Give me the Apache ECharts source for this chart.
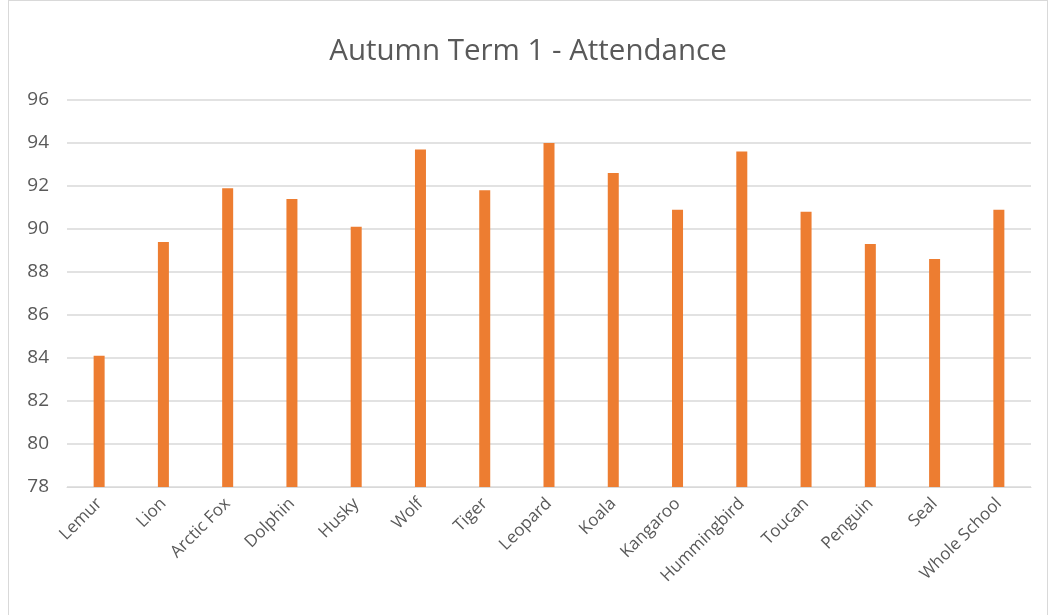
<!DOCTYPE html>
<html>
<head>
<meta charset="utf-8">
<script src="https://cdn.jsdelivr.net/npm/echarts@6/dist/echarts.min.js"></script>
<style>
  html, body { margin: 0; padding: 0; background: #fff; }
  #chart { position: absolute; left: 8px; top: 0; width: 1040px; height: 640px;
           border: 1px solid #d9d9d9; box-sizing: border-box; }
</style>
</head>
<body>
<div id="chart"></div>
<script>
var classes = ['Lemur', 'Lion', 'Arctic Fox', 'Dolphin', 'Husky', 'Wolf', 'Tiger', 'Leopard',
    'Koala', 'Kangaroo', 'Hummingbird', 'Toucan', 'Penguin', 'Seal', 'Whole School'];
var attendance = [84.1, 89.4, 91.9, 91.4, 90.1, 93.7, 91.8, 94.0, 92.6, 90.9, 93.6, 90.8, 89.3, 88.6, 90.9];
var yMin = 78, yMax = 96, yStep = 2;

var myChart = echarts.init(document.getElementById('chart'));
var option = {
    animation: false,
    title: {
        text: 'Autumn Term 1 - Attendance',
        left: 'center',
        top: 31,
        textStyle: {
            color: '#595959',
            fontSize: 29.5,
            fontWeight: 'normal',
            fontFamily: 'Open Sans'
        }
    },
    grid: {
        left: 58,
        right: 16,
        top: 99,
        height: 387,
        containLabel: false
    },
    xAxis: {
        type: 'category',
        data: classes,
        axisTick: { show: false },
        axisLine: { lineStyle: { color: '#d9d9d9', width: 1 } },
        axisLabel: {
            interval: 0,
            rotate: 45,
            color: '#595959',
            fontSize: 17,
            fontFamily: 'Open Sans',
            margin: 14
        }
    },
    yAxis: {
        type: 'value',
        min: yMin,
        max: yMax,
        interval: yStep,
        axisLine: { show: false },
        axisTick: { show: false },
        splitLine: { lineStyle: { color: '#d9d9d9', width: 1.5 } },
        axisLabel: {
            color: '#595959',
            fontSize: 19,
            fontFamily: 'Open Sans',
            margin: 18
        }
    },
    series: [{
        name: 'Attendance',
        type: 'bar',
        data: attendance,
        barWidth: 11,
        itemStyle: { color: '#ed7d31' }
    }]
};
myChart.setOption(option);
window.onresize = myChart.resize;
</script>
</body>
</html>
